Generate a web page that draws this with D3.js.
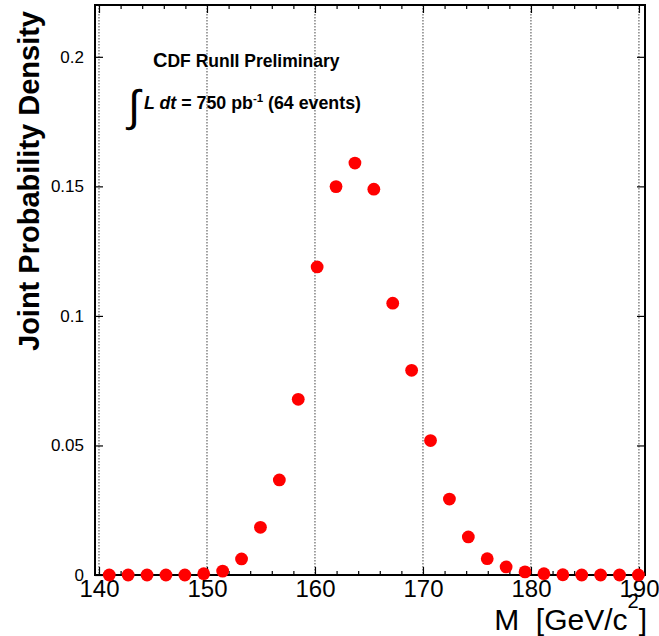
<!DOCTYPE html>
<html>
<head>
<meta charset="utf-8">
<script src="https://cdn.jsdelivr.net/npm/d3@7"></script>
<style>
  html, body { margin: 0; padding: 0; background: #fff; }
  text { font-family: "Liberation Sans", Arial, sans-serif; }
</style>
</head>
<body>
<div id="chart"></div>
<script>
// Top mass joint probability density
const massPoints = [140.95, 142.7, 144.45, 146.2, 147.95, 149.7, 151.45, 153.2, 154.95, 156.7,
  158.45, 160.2, 161.95, 163.7, 165.45, 167.2, 168.95, 170.7, 172.45, 174.2,
  175.95, 177.7, 179.45, 181.2, 182.95, 184.7, 186.45, 188.2, 189.95];
const density = [0, 0, 0, 0, 0, 0.0005, 0.0015, 0.0062, 0.0184, 0.0367,
  0.0678, 0.1189, 0.1499, 0.159, 0.1489, 0.1049, 0.079, 0.0519, 0.0293, 0.0147,
  0.0063, 0.0031, 0.0012, 0.0005, 0.0001, 0, 0, 0, 0];
const xMajorTicks = [140, 150, 160, 170, 180, 190];
const yMajorTicks = [0, 0.05, 0.1, 0.15, 0.2];
const yTickLabels = ['0', '0.05', '0.1', '0.15', '0.2'];

const width = 659;
const height = 636;
const frame = { left: 95, right: 645, top: 5, bottom: 575 };

const svg = d3.select('#chart')
  .append('svg')
  .attr('width', width)
  .attr('height', height);

// Scales
const x = d3.scaleLinear()
  .domain([139.63, 190.56])
  .range([frame.left, frame.right]);

const y = d3.scaleLinear()
  .domain([0, 0.22])
  .range([frame.bottom, frame.top]);

// Vertical dotted grid
svg.append('g')
  .selectAll('line')
  .data(xMajorTicks)
  .enter()
  .append('line')
  .attr('x1', d => x(d))
  .attr('x2', d => x(d))
  .attr('y1', frame.top)
  .attr('y2', frame.bottom)
  .attr('stroke', '#444')
  .attr('stroke-width', 1)
  .attr('stroke-dasharray', '1.5,1.5');

// Minor ticks every 2 GeV
const xMinor = d3.range(140, 191, 2).filter(d => d % 10 !== 0);

// Bottom axis: major + minor ticks pointing up
const xAxisBottom = svg.append('g')
  .attr('transform', `translate(0,${frame.bottom})`)
  .call(d3.axisBottom(x).tickValues(xMajorTicks).tickSize(-8).tickFormat(d3.format('d')));
xAxisBottom.select('.domain').remove();
xAxisBottom.selectAll('line').attr('stroke', '#000').attr('stroke-width', 1.2);
xAxisBottom.selectAll('text')
  .attr('font-family', '"Liberation Sans", Arial, sans-serif')
  .attr('font-size', '24px')
  .attr('fill', '#000')
  .attr('dy', '0.2em')
  .attr('y', 17);

const xAxisBottomMinor = svg.append('g')
  .attr('transform', `translate(0,${frame.bottom})`)
  .call(d3.axisBottom(x).tickValues(xMinor).tickSize(-4).tickFormat(''));
xAxisBottomMinor.select('.domain').remove();
xAxisBottomMinor.selectAll('line').attr('stroke', '#000').attr('stroke-width', 1.2);

// Top axis: ticks pointing down
const xAxisTop = svg.append('g')
  .attr('transform', `translate(0,${frame.top})`)
  .call(d3.axisTop(x).tickValues(xMajorTicks).tickSize(-8).tickFormat(''));
xAxisTop.select('.domain').remove();
xAxisTop.selectAll('line').attr('stroke', '#000').attr('stroke-width', 1.2);

const xAxisTopMinor = svg.append('g')
  .attr('transform', `translate(0,${frame.top})`)
  .call(d3.axisTop(x).tickValues(xMinor).tickSize(-4).tickFormat(''));
xAxisTopMinor.select('.domain').remove();
xAxisTopMinor.selectAll('line').attr('stroke', '#000').attr('stroke-width', 1.2);

// Left axis
const yAxisLeft = svg.append('g')
  .attr('transform', `translate(${frame.left},0)`)
  .call(d3.axisLeft(y).tickValues(yMajorTicks).tickSize(-8)
    .tickFormat((d, i) => yTickLabels[i]));
yAxisLeft.select('.domain').remove();
yAxisLeft.selectAll('line').attr('stroke', '#000').attr('stroke-width', 1.2);
yAxisLeft.selectAll('text')
  .attr('font-family', '"Liberation Sans", Arial, sans-serif')
  .attr('font-size', '17px')
  .attr('fill', '#000')
  .attr('x', -11);

// Right axis
const yAxisRight = svg.append('g')
  .attr('transform', `translate(${frame.right},0)`)
  .call(d3.axisRight(y).tickValues(yMajorTicks).tickSize(-8).tickFormat(''));
yAxisRight.select('.domain').remove();
yAxisRight.selectAll('line').attr('stroke', '#000').attr('stroke-width', 1.2);

// Frame
svg.append('rect')
  .attr('x', frame.left)
  .attr('y', frame.top)
  .attr('width', frame.right - frame.left)
  .attr('height', frame.bottom - frame.top)
  .attr('fill', 'none')
  .attr('stroke', '#000')
  .attr('stroke-width', 2);

// Points
svg.append('g')
  .selectAll('circle')
  .data(massPoints.map((m, i) => ({ m, v: density[i] })))
  .enter()
  .append('circle')
  .attr('cx', d => x(d.m))
  .attr('cy', d => y(d.v))
  .attr('r', 6.4)
  .attr('fill', '#ff0000');

// Y title
svg.append('text')
  .attr('transform', 'translate(39,181) rotate(-90)')
  .attr('text-anchor', 'middle')
  .attr('font-size', '29px')
  .attr('font-weight', 'bold')
  .attr('fill', '#000')
  .text('Joint Probability Density');

// X title
const xTitle = svg.append('text')
  .attr('x', 647)
  .attr('y', 630)
  .attr('text-anchor', 'end')
  .attr('font-size', '30px')
  .attr('fill', '#000');
xTitle.append('tspan').text('M\u00a0\u00a0[GeV/c');
xTitle.append('tspan').attr('font-size', '20px').attr('dy', -22).text('2');
xTitle.append('tspan').attr('dy', 22).text(']');

// Annotation
const note1 = svg.append('text')
  .attr('x', 153)
  .attr('y', 67)
  .attr('font-size', '17.5px')
  .attr('font-weight', 'bold')
  .attr('fill', '#000');
note1.append('tspan').attr('font-size', '20px').text('C');
note1.append('tspan').text('DF RunII Preliminary');

svg.append('text')
  .attr('x', 128)
  .attr('y', 121)
  .attr('font-size', '44px')
  .attr('fill', '#000')
  .attr('font-family', '"DejaVu Sans", sans-serif')
  .text('\u222B');

const note2 = svg.append('text')
  .attr('x', 144)
  .attr('y', 109)
  .attr('font-size', '17.8px')
  .attr('font-weight', 'bold')
  .attr('fill', '#000');
note2.append('tspan').attr('font-style', 'italic').text('L dt');
note2.append('tspan').text(' = 750 pb');
note2.append('tspan').attr('font-size', '11.5px').attr('dy', -7).text('-1');
note2.append('tspan').attr('dy', 7).text(' (64 events)');
</script>
</body>
</html>
